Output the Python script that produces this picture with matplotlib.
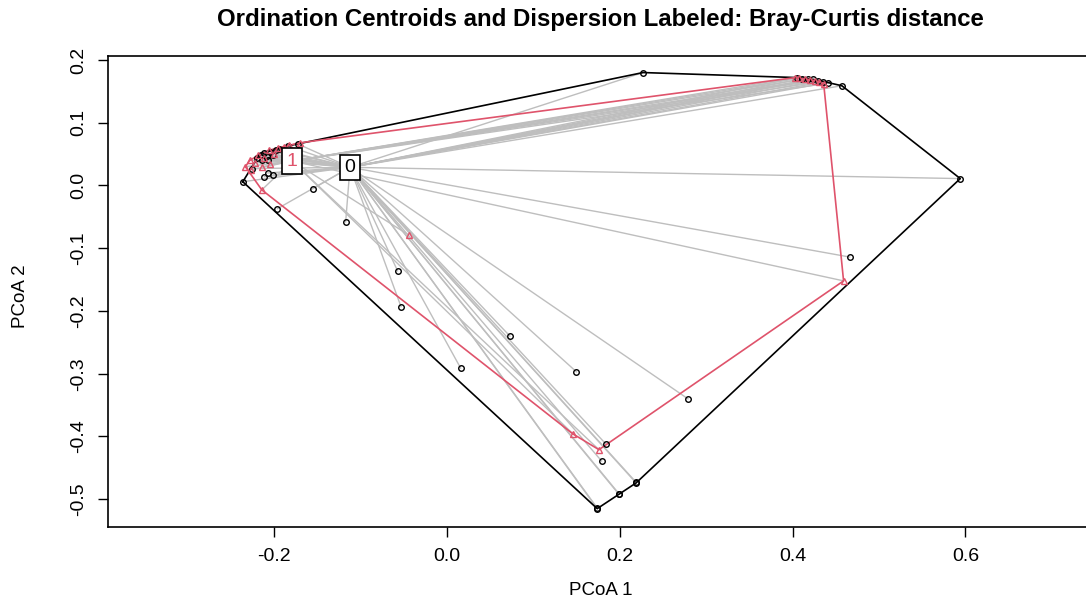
import matplotlib

matplotlib.use("Agg")
import numpy as np
import matplotlib.pyplot as plt

plt.rcParams["font.family"] = ["Liberation Sans", "DejaVu Sans"]

# PCoA scores, group 0 (black circles)
g0_x = [-0.236, -0.225, -0.211, -0.207, -0.201, -0.196, -0.155, -0.117, -0.057, -0.053,
        0.016, 0.073, 0.150, 0.279, 0.184, 0.179, 0.219, 0.199, 0.174, 0.594,
        0.466, 0.227, 0.457, 0.405, 0.411, 0.418, 0.424, 0.429, 0.435, 0.441,
        -0.219, -0.215, -0.212, -0.208, -0.205, -0.201, -0.198, -0.214, -0.194, -0.207,
        -0.184, -0.172, 0.174, 0.199, 0.219]
g0_y = [0.006, 0.027, 0.014, 0.020, 0.017, -0.037, -0.005, -0.058, -0.136, -0.193,
        -0.291, -0.240, -0.297, -0.340, -0.412, -0.439, -0.473, -0.492, -0.514, 0.011,
        -0.114, 0.180, 0.159, 0.172, 0.170, 0.169, 0.169, 0.167, 0.165, 0.164,
        0.044, 0.049, 0.052, 0.047, 0.054, 0.049, 0.057, 0.041, 0.058, 0.041,
        0.063, 0.066, -0.515, -0.491, -0.474]

# PCoA scores, group 1 (red triangles)
g1_x = [-0.233, -0.228, -0.222, -0.218, -0.212, -0.206, -0.200, -0.195, -0.188, -0.182,
        -0.170, -0.214, -0.204, -0.226, -0.214, 0.403, 0.414, 0.426, 0.436, 0.459,
        0.176, 0.146, -0.044, 0.408, 0.420, 0.431]
g1_y = [0.030, 0.040, 0.036, 0.048, 0.044, 0.056, 0.050, 0.060, 0.062, 0.064,
        0.068, 0.030, 0.034, 0.025, -0.007, 0.172, 0.170, 0.167, 0.162, -0.152,
        -0.421, -0.396, -0.079, 0.171, 0.168, 0.165]

groups = ["0", "1"]
centroid_x = [-0.112, -0.179]
centroid_y = [0.029, 0.039]
group_colors = ["black", "#DF536B"]
group_markers = ["o", "^"]


def convex_hull(xs, ys):
    pts = sorted(set(zip(xs, ys)))

    def cross(o, a, b):
        return (a[0] - o[0]) * (b[1] - o[1]) - (a[1] - o[1]) * (b[0] - o[0])

    lower, upper = [], []
    for p in pts:
        while len(lower) >= 2 and cross(lower[-2], lower[-1], p) <= 0:
            lower.pop()
        lower.append(p)
    for p in reversed(pts):
        while len(upper) >= 2 and cross(upper[-2], upper[-1], p) <= 0:
            upper.pop()
        upper.append(p)
    hull = lower[:-1] + upper[:-1]
    return np.array(hull + [hull[0]])


fig = plt.figure(figsize=(10.86, 5.98), dpi=100)
ax = fig.add_axes([0.0994, 0.119, 0.909, 0.788])

data = [(g0_x, g0_y), (g1_x, g1_y)]

# segments from each sample to its group centroid
for (xs, ys), cx, cy in zip(data, centroid_x, centroid_y):
    for x, y in zip(xs, ys):
        ax.plot([cx, x], [cy, y], color="#BEBEBE", lw=1.0, zorder=1)

# convex hulls
for (xs, ys), col in zip(data, group_colors):
    h = convex_hull(xs, ys)
    ax.plot(h[:, 0], h[:, 1], color=col, lw=1.2, zorder=2)

# sample points
for (xs, ys), col, mk in zip(data, group_colors, group_markers):
    ax.plot(xs, ys, ls="none", marker=mk, ms=4, mfc="none", mec=col, mew=1.0, zorder=3)

# centroid labels
for lab, cx, cy, col in zip(groups, centroid_x, centroid_y, group_colors):
    ax.text(cx, cy, lab, ha="center", va="center", fontsize=14, color=col, zorder=5,
            bbox=dict(boxstyle="square,pad=0.22", fc="white", ec="black", lw=1.2))

ax.set_xlim(-0.392, 0.75)
ax.set_ylim(-0.544, 0.207)
ax.set_xticks([-0.2, 0.0, 0.2, 0.4, 0.6])
ax.set_xticklabels(["-0.2", "0.0", "0.2", "0.4", "0.6"])
ax.set_yticks([-0.5, -0.4, -0.3, -0.2, -0.1, 0.0, 0.1, 0.2])
ax.set_yticklabels(["-0.5", "-0.4", "-0.3", "-0.2", "-0.1", "0.0", "0.1", "0.2"],
                   rotation=90, va="center")
ax.tick_params(direction="out", length=7, width=1, labelsize=14, pad=8)
for s in ax.spines.values():
    s.set_linewidth(1.2)

fig.text(0.553, 0.968, "Ordination Centroids and Dispersion Labeled: Bray-Curtis distance",
         ha="center", va="center", fontsize=17.3, fontweight="bold")
fig.text(0.553, 0.013, "PCoA 1", ha="center", va="center", fontsize=13.5)
fig.text(0.019, 0.505, "PCoA 2", ha="center", va="center", fontsize=13.5, rotation=90)

fig.savefig("out.png", dpi=100)
